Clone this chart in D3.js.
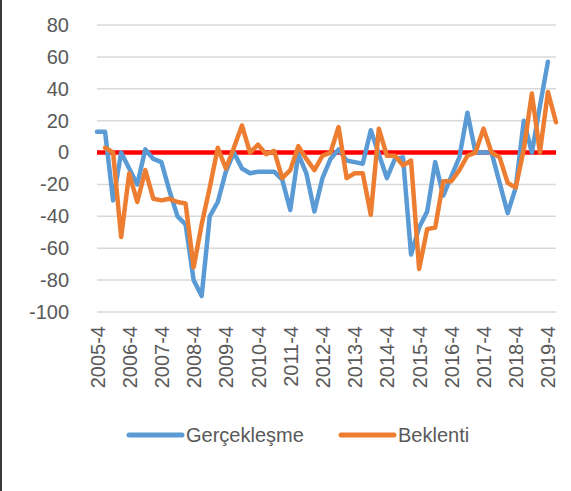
<!DOCTYPE html>
<html>
<head>
<meta charset="utf-8">
<script src="https://cdn.jsdelivr.net/npm/d3@7"></script>
<style>
  html, body { margin: 0; padding: 0; background: #fff; }
  svg { display: block; }
  text { font-family: "Liberation Sans", Arial, sans-serif; fill: #595959; }
</style>
</head>
<body>
<svg id="chart" width="571" height="491"></svg>
<script>
const quarters = [
  "2005-4",
  "2006-1","2006-2","2006-3","2006-4",
  "2007-1","2007-2","2007-3","2007-4",
  "2008-1","2008-2","2008-3","2008-4",
  "2009-1","2009-2","2009-3","2009-4",
  "2010-1","2010-2","2010-3","2010-4",
  "2011-1","2011-2","2011-3","2011-4",
  "2012-1","2012-2","2012-3","2012-4",
  "2013-1","2013-2","2013-3","2013-4",
  "2014-1","2014-2","2014-3","2014-4",
  "2015-1","2015-2","2015-3","2015-4",
  "2016-1","2016-2","2016-3","2016-4",
  "2017-1","2017-2","2017-3","2017-4",
  "2018-1","2018-2","2018-3","2018-4",
  "2019-1","2019-2","2019-3","2019-4",
  "2020-1"
];
const tickLabels = ["2005-4","2006-4","2007-4","2008-4","2009-4","2010-4","2011-4",
  "2012-4","2013-4","2014-4","2015-4","2016-4","2017-4","2018-4","2019-4"];
const yTicks = [80, 60, 40, 20, 0, -20, -40, -60, -80, -100];

// Gerçekleşme (realised)
const gerceklesme = [
  13, 13, -30, 0, -10, -20, 2, -4, -6,
  -24, -40, -45, -80, -90, -40, -31, -12,
  0, -10, -13, -12, -12, -12, -17, -36,
  -1, -13, -37, -16, -4, 2, -5, -6,
  -7, 14, -1, -16, -4, -3, -64, -47,
  -37, -6, -27, -15, -3, 25, 0, 0,
  0, -19, -38, -22, 20, 0, 29, 57,
  null
];
// Beklenti (expectation)
const beklenti = [
  null,
  3, 0, -53, -13, -31, -11, -29, -30,
  -29, -31, -32, -72, -45, -22, 3, -10,
  3, 17, 0, 5, -1, 1, -16, -11,
  4, -4, -11, -2, 0, 16, -16, -13,
  -13, -39, 15, -2, -2, -8, -5, -73,
  -48, -47, -18, -18, -11, -2, 0, 15,
  0, -3, -19, -22, 2, 37, 0, 38,
  19
];
const seriesNames = ["Gerçekleşme", "Beklenti"];
const seriesColors = ["#5B9BD5", "#ED7D31"];

const svg = d3.select("#chart");
const x = d3.scalePoint().domain(quarters).range([97, 556]);
const y = d3.scaleLinear().domain([-100, 80]).range([312, 25]);

// left frame line
svg.append("rect").attr("x", 0).attr("y", 0).attr("width", 2).attr("height", 491).attr("fill", "#3a3a3a");

// gridlines
svg.append("g").selectAll("line").data(yTicks).join("line")
  .attr("x1", 97).attr("x2", 556)
  .attr("y1", d => y(d)).attr("y2", d => y(d))
  .attr("stroke", "#D9D9D9").attr("stroke-width", 1.5);

// y axis labels
const yAxis = d3.axisLeft(y).tickValues(yTicks).tickSize(0).tickPadding(0)
  .tickFormat(d => String(d));
const gy = svg.append("g").attr("transform", "translate(69,0)").call(yAxis);
gy.select(".domain").remove();
gy.selectAll("text").style("font-size", "20px").style("font-family", "Liberation Sans, Arial, sans-serif").attr("fill", "#595959");

// x axis labels
const xAxis = d3.axisBottom(x).tickValues(tickLabels).tickSize(0).tickPadding(0);
const gx = svg.append("g").attr("transform", "translate(0,326)").call(xAxis);
gx.select(".domain").remove();
gx.selectAll("text")
  .style("font-size", "20px").style("font-family", "Liberation Sans, Arial, sans-serif")
  .attr("fill", "#595959")
  .attr("transform", "rotate(-90)")
  .attr("x", 0).attr("y", 0).attr("dy", "0.35em")
  .attr("text-anchor", "end");

// zero reference line
svg.append("line")
  .attr("x1", 97).attr("x2", 556)
  .attr("y1", y(0)).attr("y2", y(0))
  .attr("stroke", "#FF0000").attr("stroke-width", 4.5);

const line = d3.line()
  .defined(d => d.v !== null)
  .x(d => x(d.q)).y(d => y(d.v));

[gerceklesme, beklenti].forEach((arr, k) => {
  const data = quarters.map((q, i) => ({ q, v: arr[i] }));
  svg.append("path").datum(data)
    .attr("fill", "none")
    .attr("stroke", seriesColors[k])
    .attr("stroke-width", 4.5)
    .attr("stroke-linejoin", "round")
    .attr("stroke-linecap", "round")
    .attr("d", line);
});

// legend
const legendItems = [
  { x1: 129, x2: 182, tx: 186 },
  { x1: 341, x2: 394, tx: 398 }
];
const lg = svg.append("g");
legendItems.forEach((it, k) => {
  lg.append("line")
    .attr("x1", it.x1).attr("x2", it.x2).attr("y1", 435).attr("y2", 435)
    .attr("stroke", seriesColors[k]).attr("stroke-width", 5).attr("stroke-linecap", "round");
  lg.append("text")
    .attr("x", it.tx).attr("y", 435).attr("dy", "0.35em")
    .style("font-size", "20px")
    .text(seriesNames[k]);
});
</script>
</body>
</html>
